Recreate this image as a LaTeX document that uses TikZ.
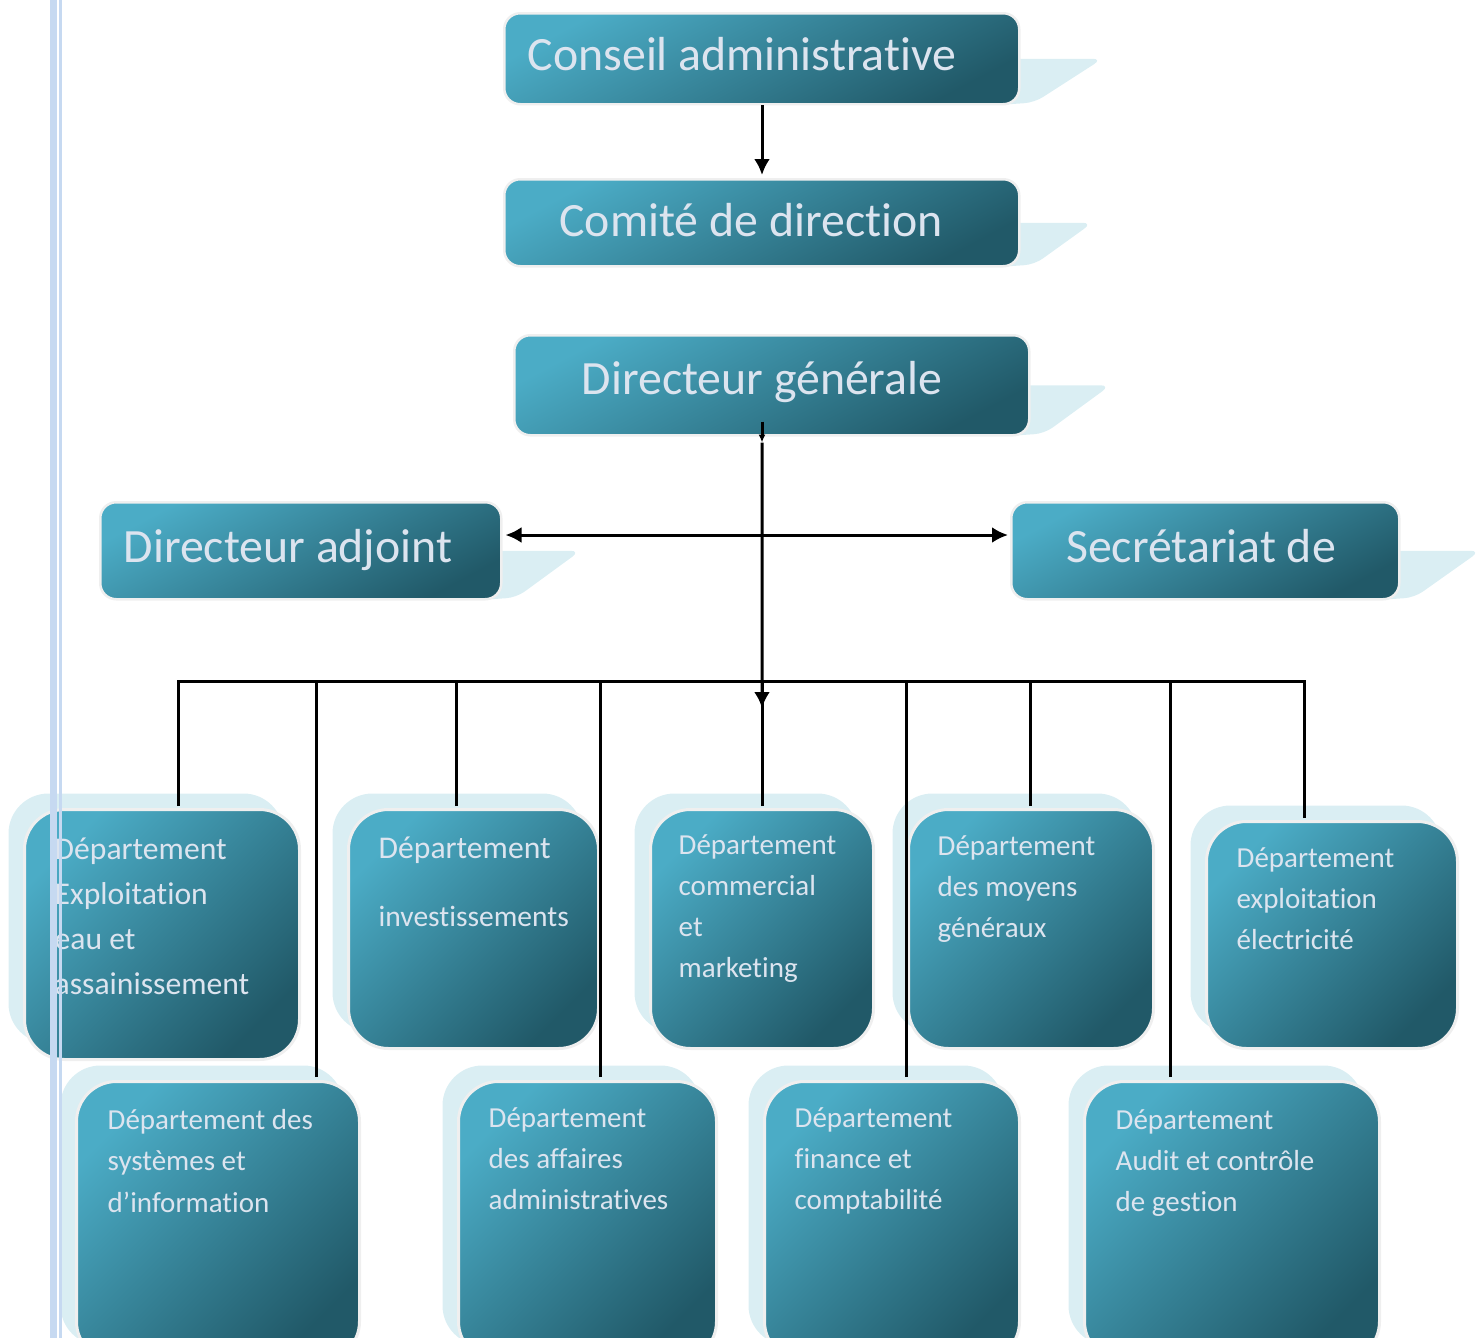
\documentclass[tikz,border=0pt]{standalone}
\usepackage{fontspec}
\setmainfont{Carlito}[Ligatures=NoCommon]
\usetikzlibrary{arrows.meta,shadows,backgrounds}
\definecolor{boxlight}{HTML}{4BACC6}
\definecolor{boxdark}{HTML}{215968}
\definecolor{boxtext}{HTML}{DCE4EF}
\definecolor{tailblue}{HTML}{DAEEF3}
\definecolor{barblue}{HTML}{C6D9F1}
\definecolor{rimgray}{HTML}{EFEFEF}
\begin{document}
\begin{tikzpicture}[x=0.1mm,y=-0.1mm,font=\fontsize{13.6pt}{16pt}\selectfont]
      \tikzstyle{top box}=[rectangle,rounded corners=1.6mm,draw=rimgray,line width=0.25mm,top color=boxlight,bottom color=boxdark,shading angle=28,anchor=north west,inner sep=0]
      \tikzstyle{dept box}=[rectangle,rounded corners=4mm,draw=rimgray,line width=0.3mm,top color=boxlight,bottom color=boxdark,shading angle=45,anchor=north west,inner sep=0,general shadow={fill=tailblue,shadow xshift=-1.6mm,shadow yshift=1.6mm}]
      \tikzstyle{top text}=[anchor=base,inner sep=0,text=boxtext]
      \tikzstyle{dept text}=[anchor=north west,align=left,inner sep=0,text=boxtext,font=\fontsize{8.25pt}{11.7pt}\selectfont]
      \tikzstyle{big dept text}=[dept text,font=\fontsize{9pt}{12.8pt}\selectfont]
      \tikzstyle{tail}=[fill=tailblue,rounded corners=1mm]
      \tikzstyle{link}=[draw,line width=0.3mm]
      \tikzstyle{arrow}=[link,-{Latex[length=1.6mm,width=1.6mm]}]

      \useasboundingbox (0,0) rectangle (1482,1338);
      \clip (0,0) rectangle (1482,1338);

      % top of the chart
      \node(0)[top box,minimum width=51.5mm,minimum height=9.1mm] at (503,12) {};
      \node(1)[top box,minimum width=51.5mm,minimum height=8.7mm] at (503,178) {};
      \node(2)[top box,minimum width=51.5mm,minimum height=10mm] at (513,334) {};
      \node(3)[top box,minimum width=40.1mm,minimum height=9.7mm] at (99,501) {};
      \node(4)[top box,minimum width=38.8mm,minimum height=9.7mm] at (1010,501) {};

      \begin{scope}[on background layer]
        \fill[tail] ([xshift=-3mm]0.east) -- ([xshift=8.2mm]0.east) -- ([xshift=1.4mm,yshift=0.3mm]0.south east) -- ([xshift=-3mm]0.south east) -- cycle;
        \fill[tail] ([xshift=-3mm]1.east) -- ([xshift=7.2mm]1.east) -- ([xshift=1.4mm,yshift=0.3mm]1.south east) -- ([xshift=-3mm]1.south east) -- cycle;
        \fill[tail] ([xshift=-3mm]2.east) -- ([xshift=8mm]2.east) -- ([xshift=1.4mm,yshift=0.3mm]2.south east) -- ([xshift=-3mm]2.south east) -- cycle;
        \fill[tail] ([xshift=-3mm]3.east) -- ([xshift=7.8mm]3.east) -- ([xshift=1.4mm,yshift=0.3mm]3.south east) -- ([xshift=-3mm]3.south east) -- cycle;
        \fill[tail] ([xshift=-3mm]4.east) -- ([xshift=8mm]4.east) -- ([xshift=1.4mm,yshift=0.3mm]4.south east) -- ([xshift=-3mm]4.south east) -- cycle;
      \end{scope}

      \node(t0)[top text] at (742,71) {Conseil administrative};
      \node(t1)[top text] at (751,236) {Comité de direction};
      \node(t2)[top text] at (762,394) {Directeur générale};
      \node(t3)[top text] at (288,562) {Directeur adjoint};
      \node(t4)[top text] at (1201,562) {Secrétariat de};

      % departments
      \node(5)[dept box,minimum width=27.5mm,minimum height=25mm] at (23,808) {};
      \node(6)[dept box,minimum width=25mm,minimum height=23.9mm] at (347,808) {};
      \node(7)[dept box,minimum width=22.3mm,minimum height=23.9mm] at (649,808) {};
      \node(8)[dept box,minimum width=24.5mm,minimum height=23.9mm] at (907,808) {};
      \node(9)[dept box,minimum width=25.1mm,minimum height=22.7mm] at (1205,820) {};
      \node(10)[dept box,minimum width=28.3mm,minimum height=28mm] at (75,1080) {};
      \node(11)[dept box,minimum width=25.8mm,minimum height=28mm] at (457,1080) {};
      \node(12)[dept box,minimum width=25.5mm,minimum height=28mm] at (763,1080) {};
      \node(13)[dept box,minimum width=29.5mm,minimum height=28mm] at (1083,1080) {};

      \node(t5)[big dept text] at ([xshift=3.1mm,yshift=-2.9mm]5.north west) {Département\\Exploitation\\eau et\\assainissement};
      \node(t6)[big dept text] at ([xshift=3.1mm,yshift=-2.8mm]6.north west) {Département\\[6.5pt]{\fontsize{8.4pt}{11.7pt}\selectfont investissements}};
      \node(t7)[dept text] at ([xshift=2.9mm,yshift=-2.6mm]7.north west) {Département\\commercial\\et\\marketing};
      \node(t8)[dept text] at ([xshift=3mm,yshift=-2.7mm]8.north west) {Département\\des moyens\\généraux};
      \node(t9)[dept text] at ([xshift=3.1mm,yshift=-2.7mm]9.north west) {Département\\exploitation\\électricité};
      \node(t10)[dept text] at ([xshift=3.2mm,yshift=-2.9mm]10.north west) {Département des\\systèmes et\\d’information};
      \node(t11)[dept text] at ([xshift=3.1mm,yshift=-2.7mm]11.north west) {Département\\des affaires\\administratives};
      \node(t12)[dept text] at ([xshift=3.1mm,yshift=-2.7mm]12.north west) {Département\\finance et\\comptabilité};
      \node(t13)[dept text] at ([xshift=3.2mm,yshift=-2.9mm]13.north west) {Département\\Audit et contrôle\\de gestion};

      % connectors
      \coordinate (b) at (762,681);
      \coordinate (t) at (762,708);
      \draw[arrow] ([xshift=25.9mm]0.south west) -- ([xshift=25.9mm,yshift=0.3mm]1.north west);
      \draw[link,-{Latex[length=0.8mm,width=0.7mm]}] ([xshift=24.9mm,yshift=1.5mm]2.south west) -- ([xshift=24.9mm,yshift=-0.6mm]2.south west);
      \draw[arrow] ([xshift=24.9mm,yshift=-0.6mm]2.south west) -- (t);
      \draw[link,{Latex[length=1.6mm,width=1.6mm]}-{Latex[length=1.6mm,width=1.6mm]}] ([xshift=0.3mm,yshift=-3.4mm]3.north east) -- ([xshift=-0.2mm,yshift=-3.4mm]4.north west);
      \draw[link] ([xshift=15.5mm,yshift=0.2mm]5.north west) |- (b);
      \draw[link] ([xshift=10.9mm,yshift=0.2mm]6.north west) |- (b);
      \draw[link] ([xshift=11.3mm,yshift=0.2mm]7.north west) |- (b);
      \draw[link] ([xshift=12.3mm,yshift=0.2mm]8.north west) |- (b);
      \draw[link] ([xshift=9.9mm,yshift=0.2mm]9.north west) |- (b);
      \draw[link] ([xshift=24.1mm,yshift=0.3mm]10.north west) |- (b);
      \draw[link] ([xshift=14.3mm,yshift=0.3mm]11.north west) |- (b);
      \draw[link] ([xshift=14.3mm,yshift=0.3mm]12.north west) |- (b);
      \draw[link] ([xshift=8.7mm,yshift=0.3mm]13.north west) |- (b);

      % margin bar
      \fill[barblue] (50,0) rectangle (57,1338);
      \fill[barblue] (59,0) rectangle (62,1338);
\end{tikzpicture}
\end{document}
